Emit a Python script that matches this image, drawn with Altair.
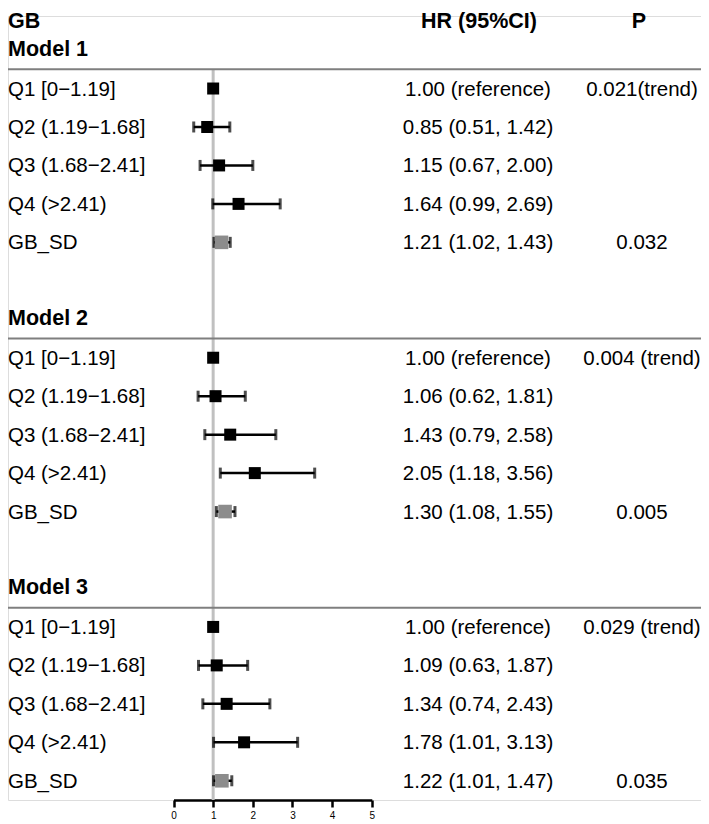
import altair as alt
import pandas as pd

# ---- data ----
models = ["Model 1", "Model 2", "Model 3"]
groups = ["Q1 [0−1.19]", "Q2 (1.19−1.68]", "Q3 (1.68−2.41]", "Q4 (>2.41)", "GB_SD"]
hr = [[1.00, 0.85, 1.15, 1.64, 1.21],
      [1.00, 1.06, 1.43, 2.05, 1.30],
      [1.00, 1.09, 1.34, 1.78, 1.22]]
lo = [[None, 0.51, 0.67, 0.99, 1.02],
      [None, 0.62, 0.79, 1.18, 1.08],
      [None, 0.63, 0.74, 1.01, 1.01]]
hi = [[None, 1.42, 2.00, 2.69, 1.43],
      [None, 1.81, 2.58, 3.56, 1.55],
      [None, 1.87, 2.43, 3.13, 1.47]]
p_trend = ["0.021(trend)", "0.004 (trend)", "0.029 (trend)"]
p_sd = ["0.032", "0.005", "0.035"]
headers = ["GB", "HR (95%CI)", "P"]
x_ticks = [0, 1, 2, 3, 4, 5]

# ---- table built from the arrays ----
rows = []
for m, model in enumerate(models):
    for i, g in enumerate(groups):
        r = 7 * m + 2 + i
        if lo[m][i] is None:
            hrtxt = "1.00 (reference)"
        else:
            hrtxt = f"{hr[m][i]:.2f} ({lo[m][i]:.2f}, {hi[m][i]:.2f})"
        if i == 0:
            ptxt = p_trend[m]
        elif g == "GB_SD":
            ptxt = p_sd[m]
        else:
            ptxt = ""
        rows.append(dict(row=r, label=g, hr=hr[m][i], lo=lo[m][i], hi=hi[m][i],
                         kind="sd" if g == "GB_SD" else "q", hrtxt=hrtxt, ptxt=ptxt))
df = pd.DataFrame(rows)
ci = df.dropna(subset=["lo"])
mdf = pd.DataFrame(dict(row=[7 * m + 1 for m in range(3)],
                        sep=[7 * m + 1.5 for m in range(3)],
                        label=models))
hdf = pd.DataFrame(dict(row=[0.42] * 3, label=headers))
refdf = pd.DataFrame(dict(x=[1.0], y=[1.5], y2=[20.5]))

FONT = "Liberation Sans"
XS = alt.Scale(domain=[0, 5], range=[165.5, 363.8], nice=False, zero=False)
YS = alt.Scale(domain=[0.1144, 20.5], reverse=True, nice=False, zero=False)
AX = alt.Axis(values=x_ticks, format="d", labelFontSize=10, labelColor="black",
              labelFont=FONT, tickColor="black", tickWidth=2.5, tickSize=7,
              domainColor="black", domainWidth=2.5, grid=False, labelPadding=3,
              title=None, labelFlush=False)


def X(f):
    return alt.X(f, type="quantitative", scale=XS, axis=AX)


def Y(f):
    return alt.Y(f, type="quantitative", scale=YS, axis=None)


ref = alt.Chart(refdf).mark_rule(color="#c0c0c0", strokeWidth=3).encode(
    x=X("x"), y=Y("y"), y2="y2")

seps = alt.Chart(mdf).mark_rule(color="#7f7f7f", strokeWidth=2).encode(
    y=Y("sep"), x=alt.value(0), x2=alt.value(693))

cil = alt.Chart(ci).mark_rule(color="black", strokeWidth=2.5).encode(
    x=X("lo"), x2="hi", y=Y("row"))

caps = alt.Chart(ci).transform_fold(["lo", "hi"], as_=["end", "val"]).mark_tick(
    orient="vertical", size=11, thickness=3, color="black").encode(
    x=X("val"), y=Y("row"))

sq = alt.Chart(df).mark_square(opacity=1, strokeWidth=0).encode(
    x=X("hr"), y=Y("row"),
    color=alt.Color("kind:N", scale=alt.Scale(domain=["q", "sd"], range=["#000000", "#8c8c8c"]), legend=None),
    size=alt.Size("kind:N", scale=alt.Scale(domain=["q", "sd"], range=[144, 185]), legend=None))

lab = alt.Chart(df).mark_text(align="left", baseline="middle", dy=1, fontSize=20.5, font=FONT, color="black").encode(
    x=alt.value(0), y=Y("row"), text="label")
hrt = alt.Chart(df).mark_text(align="center", baseline="middle", dy=1, fontSize=20.5, font=FONT, color="black").encode(
    x=alt.value(470), y=Y("row"), text="hrtxt")
pt = alt.Chart(df).mark_text(align="center", baseline="middle", dy=1, fontSize=20.5, font=FONT, color="black").encode(
    x=alt.value(634), y=Y("row"), text="ptxt")
mlab = alt.Chart(mdf).mark_text(align="left", baseline="middle", fontSize=21.5, fontWeight="bold", font=FONT, color="black").encode(
    x=alt.value(0), y=Y("row"), text="label")

hbase = alt.Chart(hdf)
h1 = hbase.transform_filter(alt.datum.label == headers[0]).mark_text(
    align="left", baseline="alphabetic", fontSize=21.5, fontWeight="bold", font=FONT, color="black").encode(
    x=alt.value(0), y=Y("row"), text="label")
h2 = hbase.transform_filter(alt.datum.label == headers[1]).mark_text(
    align="center", baseline="alphabetic", fontSize=21.5, fontWeight="bold", font=FONT, color="black").encode(
    x=alt.value(471), y=Y("row"), text="label")
h3 = hbase.transform_filter(alt.datum.label == headers[2]).mark_text(
    align="center", baseline="alphabetic", fontSize=21.5, fontWeight="bold", font=FONT, color="black").encode(
    x=alt.value(631), y=Y("row"), text="label")

chart = alt.layer(ref, seps, cil, caps, sq, lab, hrt, pt, mlab, h1, h2, h3).properties(
    width=693, height=784,
    padding={"left": 0, "top": 8, "right": 0, "bottom": 24},
    autosize=alt.AutoSizeParams(type="none"),
).configure_view(stroke=None).configure(background="white")

chart.save("out.html", embed_options={"renderer": "svg", "actions": False})
